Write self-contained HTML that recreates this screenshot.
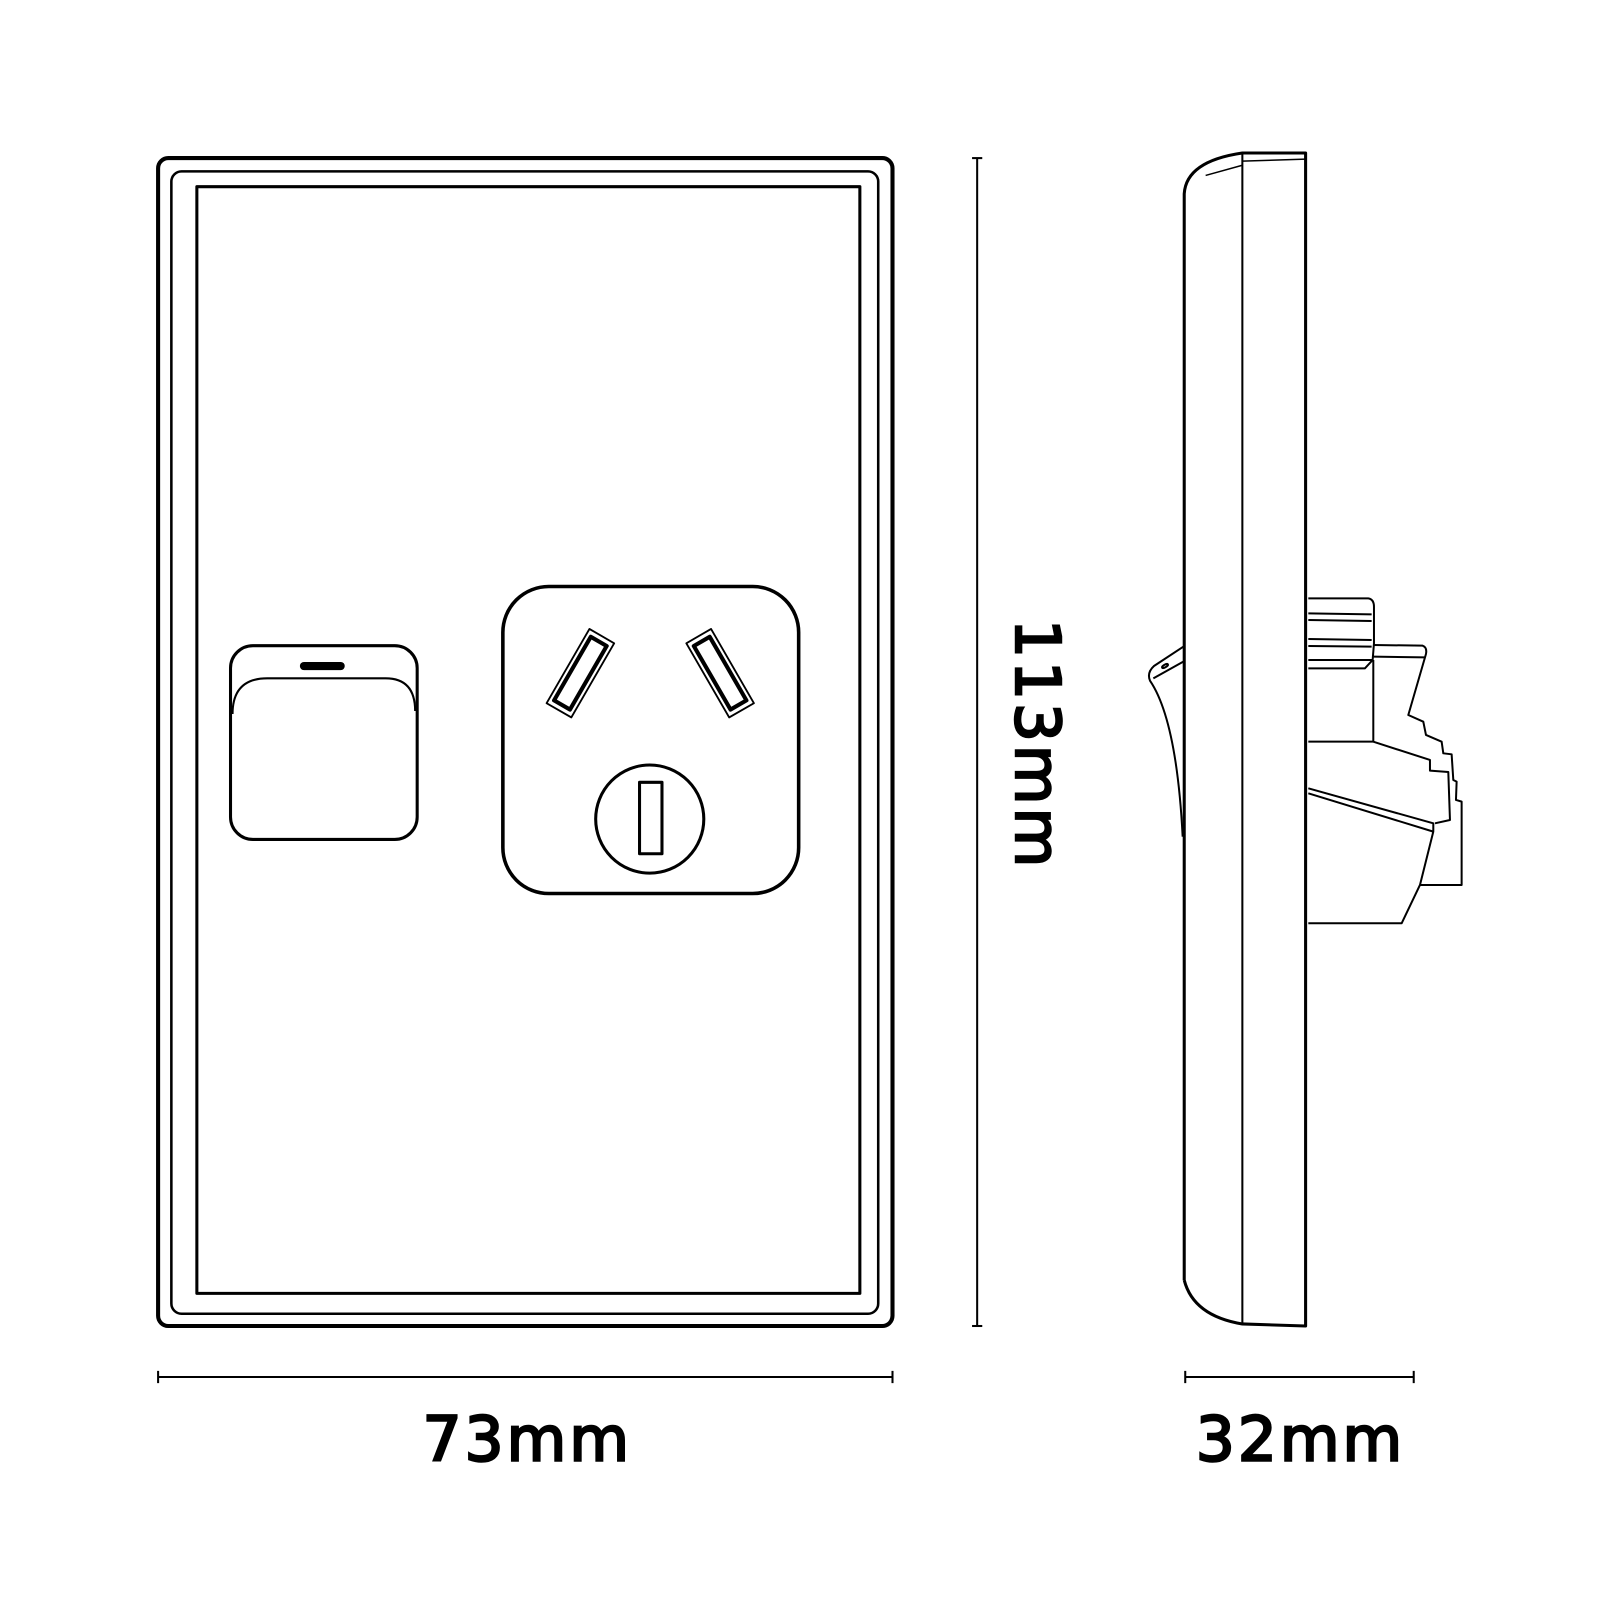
<!DOCTYPE html>
<html><head><meta charset="utf-8"><style>
html,body{margin:0;padding:0;background:#fff;width:1600px;height:1600px;overflow:hidden}
svg{display:block}
text{font-family:"DejaVu Sans","Liberation Sans",sans-serif;font-weight:normal;fill:#000;stroke:#000;stroke-width:2.4}
</style></head><body>
<svg width="1600" height="1600" viewBox="0 0 1600 1600" xmlns="http://www.w3.org/2000/svg">
<g transform="scale(1.02)" fill="none" stroke="#000" stroke-linejoin="round">
 <rect x="155" y="155" width="720" height="1145" rx="10" stroke-width="4"/>
 <rect x="168" y="168" width="693" height="1120" rx="10" stroke-width="2.5"/>
 <rect x="193" y="183" width="650" height="1085" stroke-width="3"/>
 <rect x="226" y="633" width="183" height="190" rx="22" stroke-width="3"/>
 <path d="M228,700 Q228,665 262,665 L378,665 Q407,665 407,697" stroke-width="2"/>
 <line x1="298" y1="653" x2="334" y2="653" stroke-width="8" stroke-linecap="round"/>
 <rect x="493" y="575" width="290" height="301" rx="45" stroke-width="3.5"/>
 <g transform="translate(569,660) rotate(30)">
  <rect x="-14" y="-42" width="28" height="84" stroke-width="1.8"/>
  <rect x="-9" y="-36" width="18" height="72" stroke-width="4"/>
 </g>
 <g transform="translate(706,660) rotate(-30)">
  <rect x="-14" y="-42" width="28" height="84" stroke-width="1.8"/>
  <rect x="-9" y="-36" width="18" height="72" stroke-width="4"/>
 </g>
 <circle cx="637" cy="803" r="53" stroke-width="3"/>
 <rect x="627" y="767" width="22" height="70" stroke-width="3"/>
 <g stroke-width="2">
  <line x1="958" y1="155" x2="958" y2="1300"/>
  <line x1="953" y1="155" x2="963" y2="155"/>
  <line x1="953" y1="1300" x2="963" y2="1300"/>
  <line x1="155" y1="1350" x2="875" y2="1350"/>
  <line x1="155" y1="1344" x2="155" y2="1356"/>
  <line x1="875" y1="1344" x2="875" y2="1356"/>
  <line x1="1162" y1="1350" x2="1386" y2="1350"/>
  <line x1="1162" y1="1344" x2="1162" y2="1356"/>
  <line x1="1386" y1="1344" x2="1386" y2="1356"/>
 </g>
 <path d="M1161,1255 L1161,190 Q1163,158 1218,150 L1280,150 L1280,1300 L1218,1298 Q1170,1290 1161,1255" stroke-width="3"/>
 <line x1="1218" y1="150" x2="1218" y2="1298" stroke-width="2"/>
 <line x1="1218" y1="158" x2="1280" y2="156" stroke-width="1.5"/>
 <line x1="1182" y1="172" x2="1218" y2="162" stroke-width="1.5"/>
</g>
<g transform="translate(1100,560) scale(0.3333)" fill="none" stroke="#000" stroke-width="6" stroke-linejoin="round">
 <path d="M625,115 L805,115 Q822,118 822,140 L822,250 L818,300 L795,325 L625,325"/>
 <path d="M625,160 L815,163 M625,180 L815,183 M625,237 L815,240 M625,258 L815,260 M625,300 L818,300"/>
 <path d="M820,255 L968,257 Q982,262 978,282 L925,465 L970,485 L978,525 L1025,545 L1030,580 L1055,583 L1060,660 L1070,665 L1068,720 L1085,725 L1085,975 L960,975"/>
 <path d="M820,290 L975,292"/>
 <path d="M820,300 L820,545 M625,545 L820,545 L990,600 L990,632 L1045,636 L1050,780 L1005,790"/>
 <path d="M625,685 L1000,790 L1000,815 L625,700 M1000,815 L960,975 L905,1090 L625,1090"/>
 <path d="M250,260 L162,318 Q140,338 150,362 Q230,480 248,830"/>
 <path d="M160,355 L250,305"/>
 <ellipse cx="195" cy="318" rx="10" ry="4" transform="rotate(-30 195 318)"/>
</g>
<g transform="scale(1.02)">
 <text x="517" y="1432" font-size="60" text-anchor="middle" letter-spacing="3">73mm</text>
 <text x="1275" y="1432" font-size="60" text-anchor="middle" letter-spacing="3">32mm</text>
 <text transform="translate(996,730) rotate(90)" font-size="60" text-anchor="middle" letter-spacing="3">113mm</text>
</g>
</svg>
</body></html>
